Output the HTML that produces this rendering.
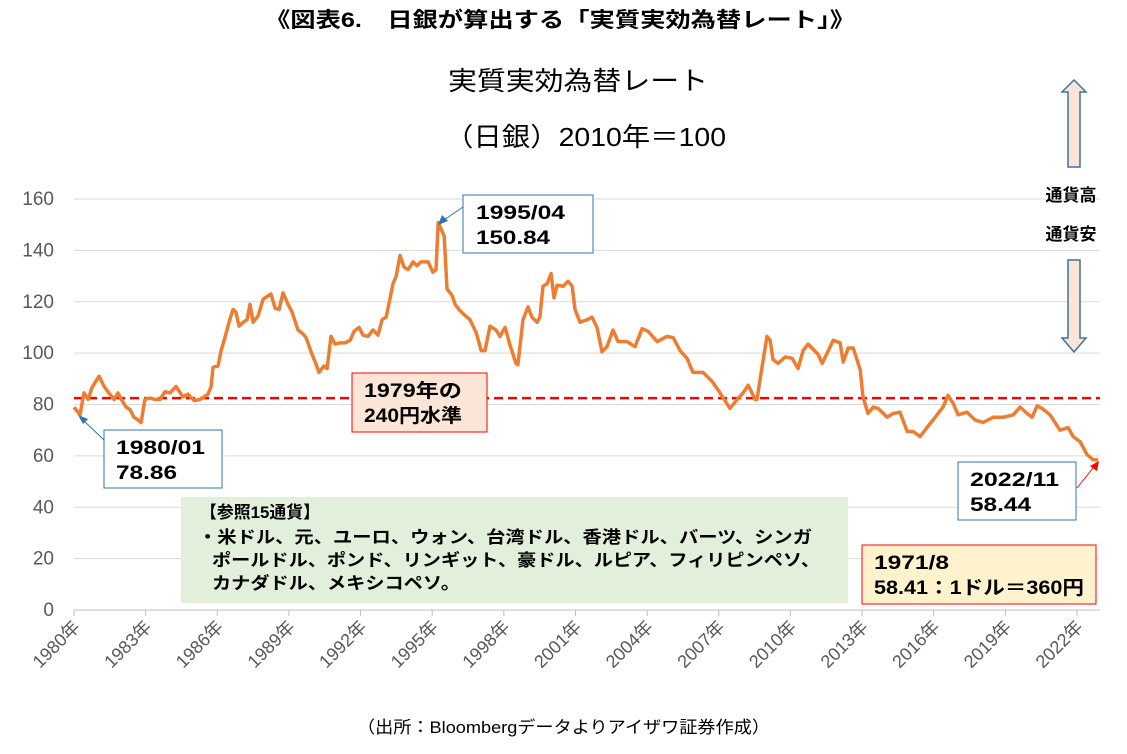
<!DOCTYPE html>
<html><head><meta charset="utf-8"><style>
body{margin:0;background:#fff;}
svg{display:block;font-family:"Liberation Sans","Noto Sans CJK JP",sans-serif;}
</style></head><body>
<svg width="1127" height="754" viewBox="0 0 1127 754">
<text x="265" y="27" font-size="21" font-weight="bold" fill="#000" textLength="590" lengthAdjust="spacingAndGlyphs">《図表6.　日銀が算出する「実質実効為替レート」》</text>
<text x="448" y="90" font-size="26" fill="#000" textLength="260" lengthAdjust="spacingAndGlyphs">実質実効為替レート</text>
<text x="445" y="146" font-size="26" fill="#000" textLength="281" lengthAdjust="spacingAndGlyphs">（日銀）2010年＝100</text>
<g id="grid"></g>
<g id="yticks"></g>
<g id="xticks"></g>
<line id="refline" x1="74" x2="1100" stroke="#ff0000" stroke-width="2.5" stroke-dasharray="9,5"/>
<polyline id="series" fill="none" stroke="#ed7d31" stroke-width="3.5" stroke-linejoin="round"/>

<g>
<line x1="463" y1="207" x2="444" y2="220" stroke="#2e75b6" stroke-width="1"/>
<polygon points="438,225 442,215 448,221" fill="#2e75b6"/>
<rect x="463" y="195" width="130" height="58" fill="#fff" stroke="#2e75b6" stroke-width="1"/>
<text x="476" y="219" font-size="19" font-weight="bold" textLength="89" lengthAdjust="spacingAndGlyphs">1995/04</text>
<text x="476" y="244" font-size="19" font-weight="bold" textLength="74" lengthAdjust="spacingAndGlyphs">150.84</text>
</g>
<g>
<line x1="104" y1="440" x2="83" y2="420" stroke="#2e75b6" stroke-width="1"/>
<polygon points="78,415 88,419 83,424" fill="#2e75b6"/>
<rect x="104" y="430" width="118" height="58" fill="#fff" stroke="#2e75b6" stroke-width="1"/>
<text x="116" y="454" font-size="19" font-weight="bold" textLength="89" lengthAdjust="spacingAndGlyphs">1980/01</text>
<text x="116" y="479" font-size="19" font-weight="bold" textLength="61" lengthAdjust="spacingAndGlyphs">78.86</text>
</g>
<g>
<rect x="352" y="373" width="135" height="59" fill="#fbe5d6" stroke="#ff0000" stroke-width="1"/>
<text x="364" y="397" font-size="19" font-weight="bold" textLength="98" lengthAdjust="spacingAndGlyphs">1979年の</text>
<text x="364" y="422" font-size="19" font-weight="bold" textLength="98" lengthAdjust="spacingAndGlyphs">240円水準</text>
</g>
<g>
<line x1="1077" y1="488" x2="1093" y2="468" stroke="#ff0000" stroke-width="1"/>
<polygon points="1099,461 1097,471 1090,466" fill="#ff0000"/>
<rect x="958" y="462" width="118" height="58" fill="#fff" stroke="#2e75b6" stroke-width="1"/>
<text x="970" y="486" font-size="19" font-weight="bold" textLength="89" lengthAdjust="spacingAndGlyphs">2022/11</text>
<text x="970" y="511" font-size="19" font-weight="bold" textLength="61" lengthAdjust="spacingAndGlyphs">58.44</text>
</g>
<g>
<rect x="862" y="545" width="234" height="59" fill="#fff2cc" stroke="#ff0000" stroke-width="1"/>
<text x="874" y="569" font-size="19" font-weight="bold" textLength="75" lengthAdjust="spacingAndGlyphs">1971/8</text>
<text x="874" y="594" font-size="19" font-weight="bold" textLength="210" lengthAdjust="spacingAndGlyphs">58.41：1ドル＝360円</text>
</g>
<g>
<rect x="181" y="497" width="667" height="106" fill="#e2efda"/>
<text x="200" y="518" font-size="17" font-weight="bold" textLength="120" lengthAdjust="spacingAndGlyphs">【参照15通貨】</text>
<text x="198" y="543" font-size="17" font-weight="bold" textLength="614" lengthAdjust="spacingAndGlyphs">・米ドル、元、ユーロ、ウォン、台湾ドル、香港ドル、バーツ、シンガ</text>
<text x="212" y="566" font-size="17" font-weight="bold" textLength="608" lengthAdjust="spacingAndGlyphs">ポールドル、ポンド、リンギット、豪ドル、ルピア、フィリピンペソ、</text>
<text x="212" y="589" font-size="17" font-weight="bold" textLength="248" lengthAdjust="spacingAndGlyphs">カナダドル、メキシコペソ。</text>
</g>
<polygon points="1074,80 1086,92 1080,92 1080,167 1068,167 1068,92 1062,92" fill="#fbe5d6" stroke="#41719c" stroke-width="1.5"/>
<text x="1071" y="201" text-anchor="middle" font-size="17" font-weight="bold">通貨高</text>
<text x="1071" y="240" text-anchor="middle" font-size="17" font-weight="bold">通貨安</text>
<polygon points="1068,260 1080,260 1080,338 1086,338 1074,352 1062,338 1068,338" fill="#fbe5d6" stroke="#41719c" stroke-width="1.5"/>
<text x="357" y="733" font-size="17" fill="#000" textLength="413" lengthAdjust="spacingAndGlyphs">（出所：Bloombergデータよりアイザワ証券作成）</text>
</svg>
<script>
const dates=[1980.00,1980.17,1980.25,1980.42,1980.59,1980.75,1980.88,1981.05,1981.26,1981.42,1981.68,1981.84,1982.01,1982.18,1982.35,1982.51,1982.68,1982.81,1982.97,1983.18,1983.39,1983.60,1983.81,1984.02,1984.27,1984.56,1984.77,1985.03,1985.28,1985.61,1985.74,1985.82,1986.03,1986.16,1986.32,1986.49,1986.66,1986.78,1986.91,1987.08,1987.25,1987.37,1987.50,1987.71,1987.92,1988.08,1988.25,1988.42,1988.59,1988.75,1988.96,1989.13,1989.38,1989.59,1989.72,1989.93,1990.14,1990.26,1990.47,1990.60,1990.76,1990.93,1991.14,1991.35,1991.56,1991.73,1991.94,1992.10,1992.31,1992.52,1992.73,1992.90,1993.07,1993.23,1993.36,1993.49,1993.65,1993.82,1993.99,1994.20,1994.36,1994.53,1994.83,1995.03,1995.16,1995.25,1995.50,1995.62,1995.83,1995.96,1996.12,1996.33,1996.58,1996.84,1997.05,1997.21,1997.42,1997.67,1997.84,1998.05,1998.26,1998.51,1998.59,1998.80,1999.01,1999.18,1999.39,1999.51,1999.64,1999.81,1999.98,2000.10,2000.23,2000.48,2000.69,2000.86,2000.98,2001.19,2001.49,2001.69,2001.90,2002.11,2002.32,2002.57,2002.78,2003.16,2003.49,2003.79,2004.04,2004.42,2004.83,2005.09,2005.38,2005.67,2005.92,2006.34,2006.72,2007.05,2007.47,2007.77,2008.02,2008.23,2008.52,2008.60,2008.81,2009.02,2009.15,2009.27,2009.48,2009.78,2010.07,2010.32,2010.53,2010.74,2011.16,2011.33,2011.54,2011.79,2012.08,2012.21,2012.42,2012.63,2012.92,2013.04,2013.25,2013.46,2013.67,2014.05,2014.30,2014.59,2014.89,2015.14,2015.43,2015.72,2016.06,2016.39,2016.60,2016.81,2017.02,2017.40,2017.73,2018.07,2018.49,2018.91,2019.33,2019.62,2019.91,2020.12,2020.33,2020.54,2020.87,2021.29,2021.63,2021.84,2022.13,2022.42,2022.67,2022.88];
const values=[78.9,77,76,84.5,82,86.5,88.5,91,87,85,82,84.5,81.5,79,78,75,74,73,82,82.5,82,82,85,84.5,87,83,84,81.5,82,84,87,94.5,95,101,106,112,117,116,110.5,112,113,119,112,114.5,121,122,123,117.5,117,123.5,119,116,109,107.5,106,100.5,95.5,92.5,95,94,106.5,103.5,104,104,105,108.5,110,107,106.5,109,107,113,114,121,127,130,138,133.5,132.5,135.5,134,135.5,135.5,131.5,132.5,150.84,145.5,125,122.5,119,117,115,113,108,101,101,110.5,109,106.5,110,103,96,95.5,113,118,114,112,114,126,127,131,121.5,126.5,126,128,126,117,112,113,114,110,100.5,102.5,109,104.5,104.5,102.5,109.5,108.5,104.5,106.5,106,101,98,92.5,92.5,89,84.5,78.5,82,84.5,87.5,82,82,94.5,106.5,105,97.5,96,98.5,98,94,101,103.5,99.5,96,100,105,104,96.5,102,102,93.5,83,76.5,79,78.5,75,76.5,77,69.5,69.5,67.5,71,75,79,83.5,80.5,76,77,74,73,75,75,76,79,76.5,75,79.5,78.5,76,70,71,67.5,65.5,60.5,58.5,58.44];
const yTicks=[0,20,40,60,80,100,120,140,160];
const xTickYears=[1980,1983,1986,1989,1992,1995,1998,2001,2004,2007,2010,2013,2016,2019,2022];
const refLevel=[82.5];
const NS="http://www.w3.org/2000/svg";
const X0=74,X1=1077,Y0=610,Y1=199;
function xs(y){return X0+(y-1980)*(X1-X0)/42;}
function ys(v){return Y0-v*(Y0-Y1)/160;}
const grid=document.getElementById('grid'),yt=document.getElementById('yticks'),xt=document.getElementById('xticks');
yTicks.forEach(t=>{
 const l=document.createElementNS(NS,'line');
 l.setAttribute('x1',X0);l.setAttribute('x2',1100);l.setAttribute('y1',ys(t));l.setAttribute('y2',ys(t));
 l.setAttribute('stroke',t===0?'#bfbfbf':'#d9d9d9');l.setAttribute('stroke-width',1);
 
 
 grid.appendChild(l);
 const tx=document.createElementNS(NS,'text');
 tx.setAttribute('x',54);tx.setAttribute('y',ys(t)+6);tx.setAttribute('text-anchor','end');
 tx.setAttribute('font-size','19');tx.setAttribute('fill','#595959');tx.textContent=t;
 
 
 yt.appendChild(tx);
});
xTickYears.forEach(y=>{
 const x=xs(y);
 const l=document.createElementNS(NS,'line');
 l.setAttribute('x1',x);l.setAttribute('x2',x);l.setAttribute('y1',Y0);l.setAttribute('y2',Y0+6);
 l.setAttribute('stroke','#bfbfbf');
 
 
 xt.appendChild(l);
 const tx=document.createElementNS(NS,'text');
 tx.setAttribute('transform','translate('+(x+7)+','+(Y0+18)+') rotate(-45)');
 tx.setAttribute('text-anchor','end');tx.setAttribute('font-size','18');tx.setAttribute('fill','#595959');
 tx.textContent=y+'年';
 
 
 xt.appendChild(tx);
});
const rl=document.getElementById('refline');
rl.setAttribute('y1',ys(refLevel[0]));rl.setAttribute('y2',ys(refLevel[0]));
document.getElementById('series').setAttribute('points',dates.map((d,i)=>xs(d).toFixed(1)+','+ys(values[i]).toFixed(1)).join(' '));
</script>
</body></html>
